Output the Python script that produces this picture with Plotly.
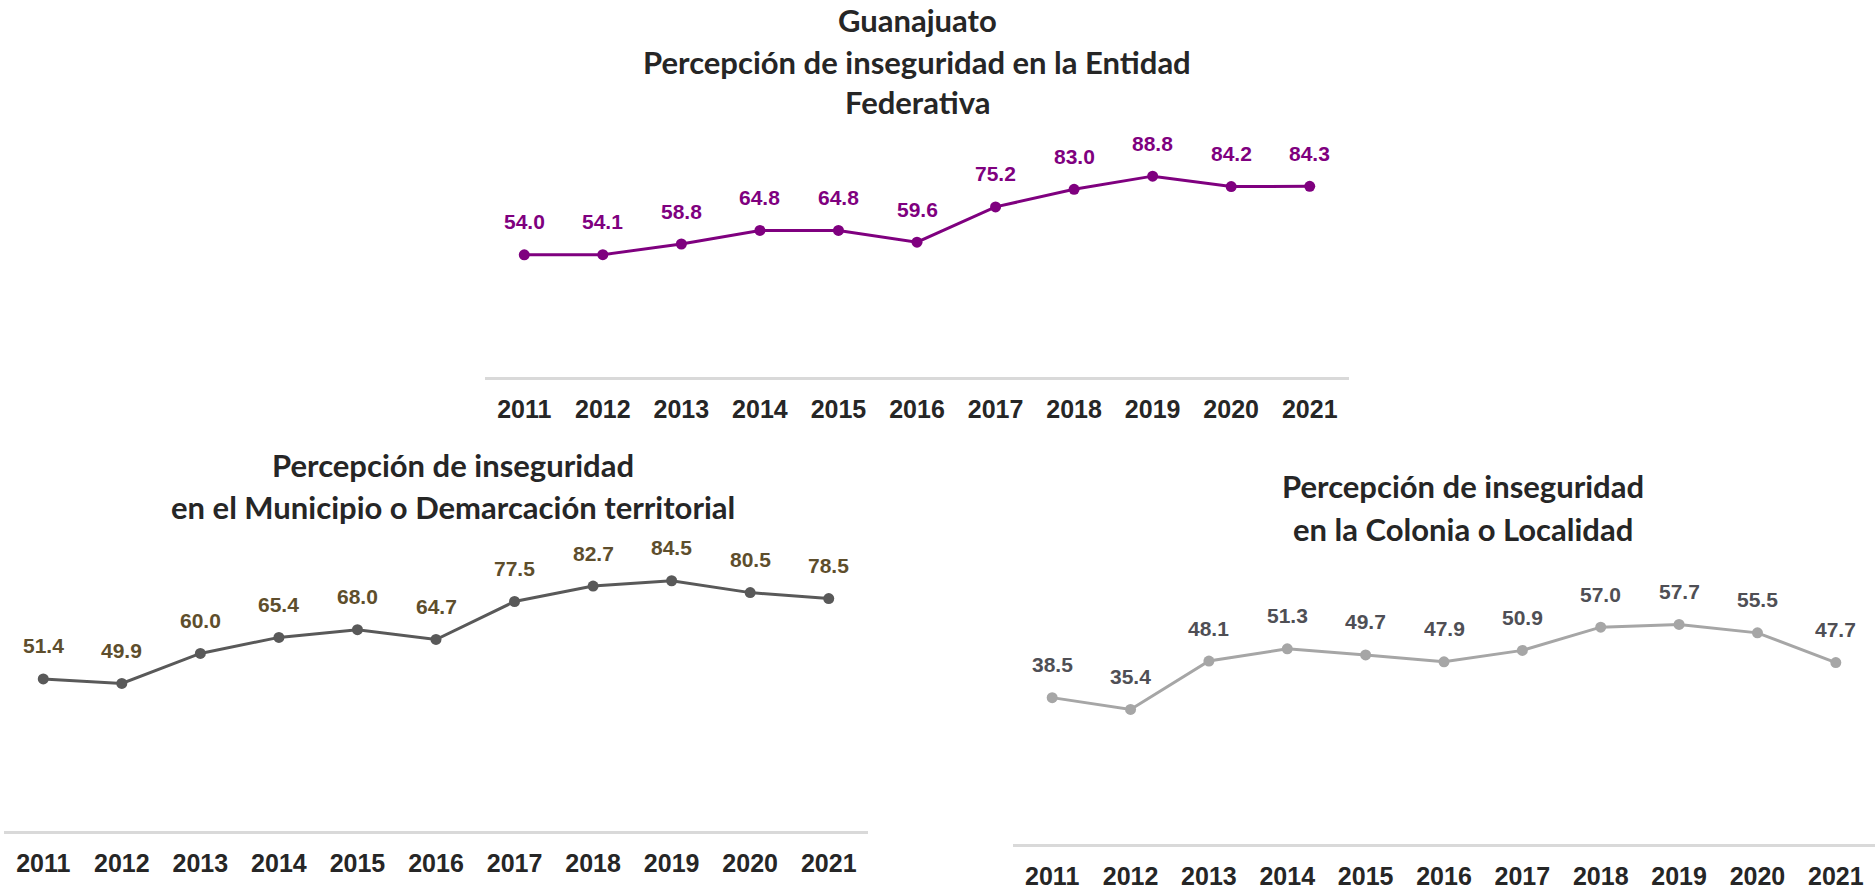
import plotly.graph_objects as go

years = [2011, 2012, 2013, 2014, 2015, 2016, 2017, 2018, 2019, 2020, 2021]
year_labels = [str(y) for y in years]
entidad = [54.0, 54.1, 58.8, 64.8, 64.8, 59.6, 75.2, 83.0, 88.8, 84.2, 84.3]
municipio = [51.4, 49.9, 60.0, 65.4, 68.0, 64.7, 77.5, 82.7, 84.5, 80.5, 78.5]
colonia = [38.5, 35.4, 48.1, 51.3, 49.7, 47.9, 50.9, 57.0, 57.7, 55.5, 47.7]

title1 = ["Guanajuato", "Percepción de inseguridad en la Entidad", "Federativa"]
title2 = ["Percepción de inseguridad", "en el Municipio o Demarcación territorial"]
title3 = ["Percepción de inseguridad", "en la Colonia o Localidad"]

W, H = 1875, 890

panels = [
    dict(vals=entidad, line="#7f007f", label="#7f007f", xd=(485, 1349), yd=(380, 152),
         title=title1, tx=917, ty=[20, 62, 103]),
    dict(vals=municipio, line="#595959", label="#5e4e2c", xd=(4, 868), yd=(838, 539),
         title=title2, tx=453, ty=[469, 511]),
    dict(vals=colonia, line="#a6a6a6", label="#4f4f55", xd=(1013, 1875), yd=(851, 467),
         title=title3, tx=1463, ty=[490, 533]),
]

fig = go.Figure()
layout = dict(width=W, height=H, margin=dict(l=0, r=0, t=0, b=0),
              paper_bgcolor="white", plot_bgcolor="white", showlegend=False,
              annotations=[])

title_font = dict(family="Lato", size=31, color="#262626")
for i, p in enumerate(panels, start=1):
    xa = "x" if i == 1 else f"x{i}"
    ya = "y" if i == 1 else f"y{i}"
    fig.add_trace(go.Scatter(
        x=years, y=p["vals"], xaxis=xa, yaxis=ya, mode="lines+markers",
        line=dict(color=p["line"], width=3),
        marker=dict(color=p["line"], size=11),
        hoverinfo="skip", cliponaxis=False))
    layout[f"xaxis{'' if i == 1 else i}"] = dict(
        domain=[p["xd"][0] / W, p["xd"][1] / W], range=[2010.5, 2021.5],
        anchor=ya, tickmode="array", tickvals=years, ticktext=year_labels,
        showgrid=False, zeroline=False, showline=True, linecolor="#d9d9d9",
        linewidth=3, ticks="outside", ticklen=8, tickcolor="rgba(0,0,0,0)",
        tickfont=dict(family="Liberation Sans", size=25, color="#262626",
                      weight="bold"),
        fixedrange=True)
    layout[f"yaxis{'' if i == 1 else i}"] = dict(
        domain=[1 - p["yd"][0] / H, 1 - p["yd"][1] / H], range=[0, 100],
        anchor=xa, visible=False, fixedrange=True)
    for x, v in zip(years, p["vals"]):
        layout["annotations"].append(dict(
            x=x, y=v, xref=xa, yref=ya, text=f"{v:.1f}", showarrow=False,
            yshift=33, font=dict(family="Liberation Sans", size=21,
                                 color=p["label"], weight="bold")))
    for line, ty in zip(p["title"], p["ty"]):
        layout["annotations"].append(dict(
            x=p["tx"] / W, y=1 - ty / H, xref="paper", yref="paper",
            text=f"<b>{line}</b>", showarrow=False, xanchor="center",
            yanchor="middle", font=title_font))

fig.update_layout(**layout)
fig.write_html("out.html", config={"displayModeBar": False},
               post_script="document.body.style.margin='0';"
                           "document.body.style.overflow='hidden';")
